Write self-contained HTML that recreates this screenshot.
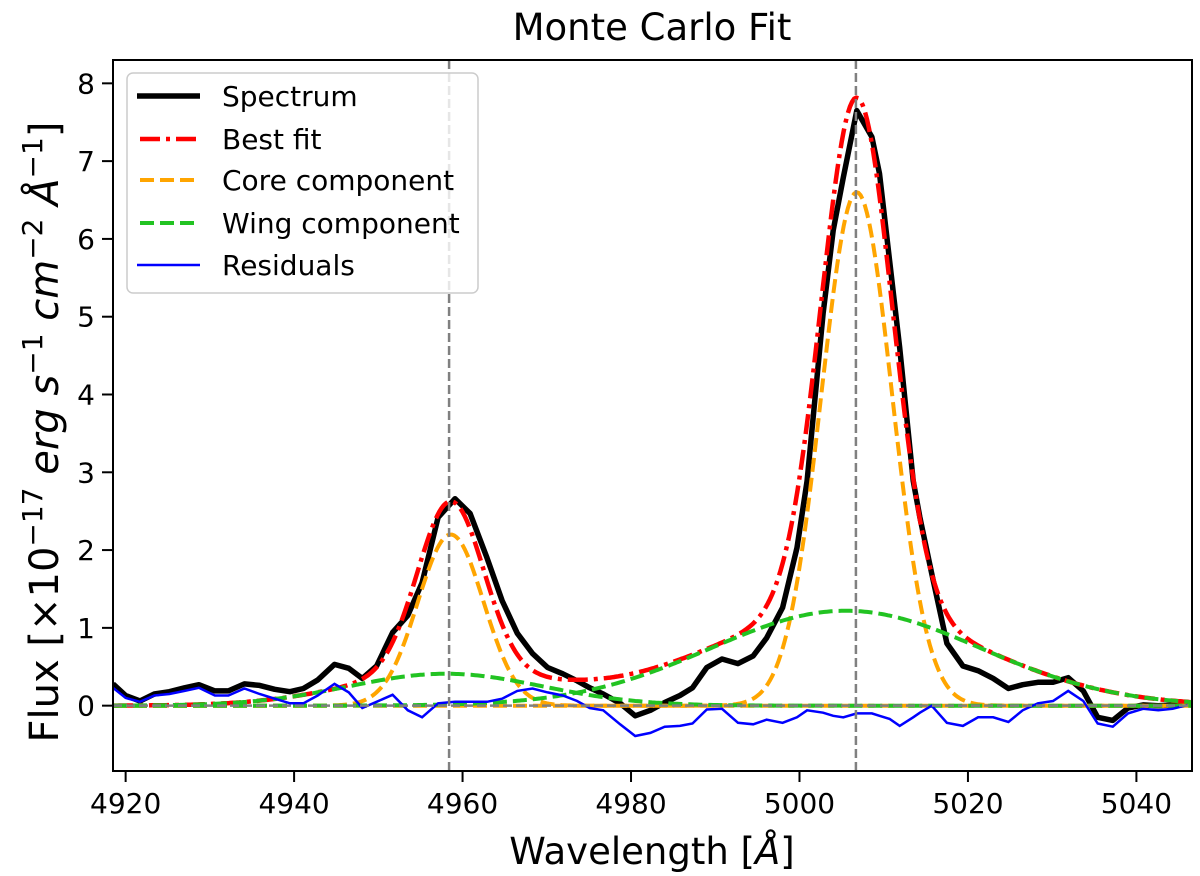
<!DOCTYPE html>
<html><head><meta charset="utf-8"><style>
html,body{margin:0;padding:0;background:#fff;}
svg{display:block;font-family:"DejaVu Sans","Liberation Sans",sans-serif;}
</style></head><body>
<svg id="chart" width="1200" height="876" viewBox="0 0 1200 876">
<text x="652" y="40" font-size="37" text-anchor="middle">Monte Carlo Fit</text>
<text x="652" y="864" font-size="37" text-anchor="middle">Wavelength [<tspan font-style="italic">Å</tspan>]</text>
<text transform="translate(58,432) rotate(-90)" font-size="40" text-anchor="middle">Flux [×10<tspan dy="-16" font-size="28">−17</tspan><tspan dy="16" font-style="italic"> erg s</tspan><tspan dy="-16" font-size="28">−1</tspan><tspan dy="16" font-style="italic"> cm</tspan><tspan dy="-16" font-size="28">−2</tspan><tspan dy="16" font-style="italic"> Å</tspan><tspan dy="-16" font-size="28">−1</tspan><tspan dy="16">]</tspan></text>
<g id="plot"></g>
<g id="axes"></g>
<g>
<rect x="127" y="73" width="351" height="220" rx="6" fill="#fff" fill-opacity="0.8" stroke="#ccc" stroke-width="1.5"/>
<g><line x1="137" y1="96" x2="200" y2="96" stroke="#000" stroke-width="5.5"/><text x="222" y="106" font-size="28">Spectrum</text></g>
<g><line x1="140" y1="139" x2="200" y2="139" stroke="#f00" stroke-width="4.5" stroke-dasharray="20,6,4,6"/><text x="222" y="149" font-size="28">Best fit</text></g>
<g><line x1="140" y1="180" x2="200" y2="180" stroke="#ffa500" stroke-width="4" stroke-dasharray="14,6"/><text x="222" y="190" font-size="28">Core component</text></g>
<g><line x1="140" y1="223" x2="200" y2="223" stroke="#22c322" stroke-width="4" stroke-dasharray="14,6"/><text x="222" y="233" font-size="28">Wing component</text></g>
<g><line x1="137" y1="265" x2="200" y2="265" stroke="#00f" stroke-width="2.5"/><text x="222" y="275" font-size="28">Residuals</text></g>
</g>
</svg>
<script>
const wavelengths=[4918.5,4920.0,4921.7,4923.4,4925.2,4927.0,4928.7,4930.6,4932.2,4934.1,4935.9,4937.7,4939.5,4941.1,4942.8,4944.8,4946.5,4948.1,4949.8,4951.7,4953.5,4955.2,4957.1,4959.1,4960.9,4962.9,4964.7,4966.5,4968.3,4970.1,4971.9,4973.6,4975.1,4976.7,4978.7,4980.5,4982.3,4984.0,4985.8,4987.3,4989.0,4990.8,4992.7,4994.5,4996.1,4998.0,4999.7,5000.9,5002.8,5004.0,5005.2,5006.8,5008.6,5009.5,5010.7,5011.9,5013.5,5014.3,5015.7,5017.5,5019.4,5021.2,5023.0,5024.8,5026.5,5028.3,5030.1,5031.9,5033.7,5035.4,5037.2,5039.0,5040.8,5042.6,5044.3,5046.1];
const spectrumFlux=[0.28,0.13,0.06,0.15,0.18,0.23,0.27,0.19,0.19,0.28,0.26,0.21,0.18,0.22,0.33,0.53,0.48,0.35,0.51,0.94,1.16,1.58,2.42,2.66,2.47,1.90,1.35,0.93,0.67,0.49,0.41,0.32,0.23,0.15,0.03,-0.13,-0.06,0.04,0.13,0.23,0.49,0.60,0.54,0.64,0.87,1.26,2.03,2.89,5.04,6.11,6.79,7.65,7.31,6.84,5.72,4.60,2.89,2.42,1.70,0.80,0.51,0.45,0.35,0.22,0.27,0.30,0.30,0.36,0.19,-0.15,-0.19,-0.03,0.01,0.00,0.01,0.04];
const residuals=[0.23,0.10,0.05,0.13,0.15,0.19,0.23,0.13,0.13,0.22,0.15,0.09,0.03,0.03,0.13,0.28,0.17,-0.03,0.05,0.14,-0.06,-0.15,0.03,0.05,0.05,0.05,0.09,0.19,0.22,0.17,0.13,0.06,-0.03,-0.06,-0.24,-0.39,-0.35,-0.27,-0.26,-0.23,-0.05,-0.04,-0.22,-0.24,-0.18,-0.22,-0.15,-0.06,-0.09,-0.13,-0.15,-0.10,-0.10,-0.13,-0.17,-0.26,-0.15,-0.09,0.00,-0.22,-0.26,-0.15,-0.15,-0.21,-0.06,0.03,0.06,0.19,0.06,-0.23,-0.27,-0.10,-0.04,-0.06,-0.04,0.01];
const coreCenters=[4958.6,5006.8];
const coreAmps=[2.2,6.6];
const coreSigmas=[3.9,4.2];
const wingCenters=[4958.0,5005.5];
const wingAmps=[0.41,1.22];
const wingSigmas=[11.5,16];
const lineMarkers=[4958.4,5006.7];
const xTicks=[4920,4940,4960,4980,5000,5020,5040];
const yTicks=[0,1,2,3,4,5,6,7,8];

const L=113,R=1192,T=60,B=771;
const X0=4918.5,X1=5046.6,Y0=-0.84,Y1=8.3;
function sx(v){return L+(v-X0)/(X1-X0)*(R-L);}
function sy(v){return B-(v-Y0)/(Y1-Y0)*(B-T);}
const NS='http://www.w3.org/2000/svg';
const plot=document.getElementById('plot'),axes=document.getElementById('axes');
function mk(tag,attrs,parent){const e=document.createElementNS(NS,tag);for(const k in attrs)e.setAttribute(k,attrs[k]);parent.appendChild(e);return e;}
function pathFrom(xs,ys){let d='';const n=Math.min(xs.length,ys.length);for(let i=0;i<n;i++)d+=(i?'L':'M')+sx(xs[i]).toFixed(1)+','+sy(ys[i]).toFixed(1);return d;}
function g1(x,c,a,s){return a*Math.exp(-0.5*Math.pow((x-c)/s,2));}
const fine=[];for(let w=X0;w<=X1;w+=0.25)fine.push(w);
const best=fine.map(w=>{let s=0;for(let i=0;i<2;i++)s+=g1(w,coreCenters[i],coreAmps[i],coreSigmas[i])+g1(w,wingCenters[i],wingAmps[i],wingSigmas[i]);return s;});

const clip=mk('clipPath',{id:'clp'},plot);mk('rect',{x:L,y:T,width:R-L,height:B-T},clip);
const g=mk('g',{'clip-path':'url(#clp)'},plot);

const sp=mk('path',{d:pathFrom(wavelengths,spectrumFlux),fill:'none',stroke:'#000','stroke-width':5.5,'stroke-linejoin':'round'},g);


const bf=mk('path',{d:pathFrom(fine,best),fill:'none',stroke:'#f00','stroke-width':4.5,'stroke-dasharray':'20,6,4,6'},g);


for(let i=0;i<2;i++){
  const cy=fine.map(w=>g1(w,coreCenters[i],coreAmps[i],coreSigmas[i]));
  const cc=mk('path',{d:pathFrom(fine,cy),fill:'none',stroke:'#ffa500','stroke-width':4,'stroke-dasharray':'14,6'},g);
  
  
}
for(let i=0;i<2;i++){
  const wy=fine.map(w=>g1(w,wingCenters[i],wingAmps[i],wingSigmas[i]));
  const wc=mk('path',{d:pathFrom(fine,wy),fill:'none',stroke:'#22c322','stroke-width':4,'stroke-dasharray':'14,6'},g);
  
  
}
const rs=mk('path',{d:pathFrom(wavelengths,residuals),fill:'none',stroke:'#00f','stroke-width':2.5},g);


const zl=mk('line',{x1:L,x2:R,y1:sy(0),y2:sy(0),stroke:'#808080','stroke-width':2.5,'stroke-dasharray':'9,4'},g);


lineMarkers.forEach(m=>{
  const vl=mk('line',{x1:sx(m),x2:sx(m),y1:T,y2:B,stroke:'#808080','stroke-width':2.5,'stroke-dasharray':'9,4'},g);
  
  
});

const frame=mk('rect',{x:L,y:T,width:R-L,height:B-T,fill:'none',stroke:'#000','stroke-width':2},axes);


xTicks.forEach(t=>{
  const x=sx(t);
  mk('line',{x1:x,x2:x,y1:B,y2:B+11,stroke:'#000','stroke-width':2},axes);
  const tx=mk('text',{x:x,y:B+42,'font-size':28,'text-anchor':'middle'},axes);
  tx.textContent=t;
  
  
});
yTicks.forEach(t=>{
  const y=sy(t);
  mk('line',{x1:L-11,x2:L,y1:y,y2:y,stroke:'#000','stroke-width':2},axes);
  const tx=mk('text',{x:L-18,y:y+10,'font-size':28,'text-anchor':'end'},axes);
  tx.textContent=t;
  
  
});
</script>
</body></html>
